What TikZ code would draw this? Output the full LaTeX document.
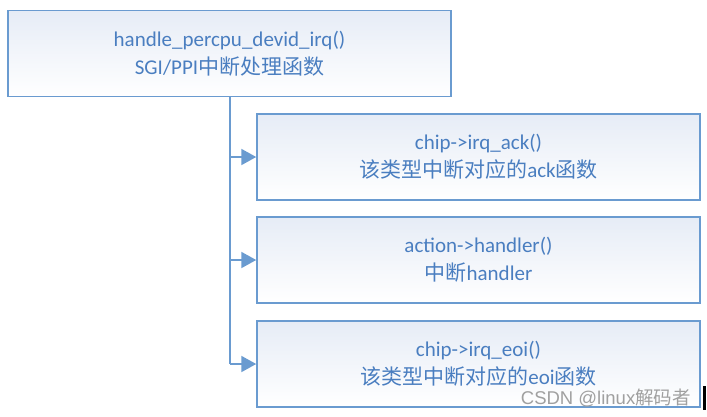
\documentclass[tikz,border=0pt]{standalone}
\usepackage{fontspec}
\setmainfont{Carlito}
\newfontfamily\cjk{Noto Sans CJK SC}
\newfontfamily\wm{Liberation Sans}
\usetikzlibrary{arrows.meta}
\definecolor{edge}{HTML}{6A9BD0}
\definecolor{txt}{HTML}{4A7EC0}
\definecolor{fillL}{HTML}{E6ECF6}
\definecolor{wmgray}{HTML}{A0A0A0}
\tikzset{
  box/.style={draw=edge, line width=1.5pt, left color=fillL, right color=white, shading angle=0,
    minimum height=86pt, minimum width=443pt, align=center, text=txt, font=\fontsize{21}{28}\selectfont, inner sep=0pt},
  conn/.style={draw=edge, line width=2pt, -{Triangle[length=15pt,width=16pt]}}
}
\begin{document}
\begin{tikzpicture}[x=1pt,y=-1pt]
\useasboundingbox (0,0) rectangle (707,416);
\node[box] (top) at (229.5,53.5) {handle\_percpu\_devid\_irq()\\SGI/PPI{\cjk 中断处理函数}};
\node[box] (b1) at (478.5,157) {chip->irq\_ack()\\{\cjk 该类型中断对应的}ack{\cjk 函数}};
\node[box] (b2) at (478.5,260) {action->handler()\\{\cjk 中断}handler};
\node[box] (b3) at (478.5,364) {chip->irq\_eoi()\\{\cjk 该类型中断对应的}eoi{\cjk 函数}};
\draw[draw=edge, line width=2pt] (top.south) -- (b3.west -| top.south);
\draw[conn] (b1.west -| top.south) -- (b1.west);
\draw[conn] (b2.west -| top.south) -- (b2.west);
\draw[conn] (b3.west -| top.south) -- (b3.west);
\node[anchor=east, text=wmgray, font=\wm\fontsize{18.5}{20}\selectfont, inner sep=0pt] (wmark) at (691,398) {CSDN @linux{\cjk 解码者}};
\fill[black] (703,386) rectangle (705.5,410);
\end{tikzpicture}
\end{document}
